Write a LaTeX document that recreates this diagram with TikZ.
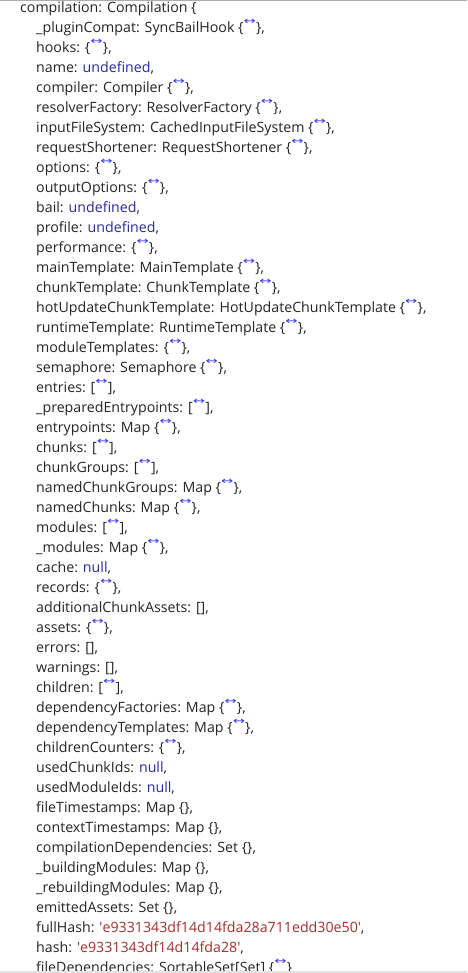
\documentclass[tikz,border=0pt]{standalone}
\usepackage{fontspec}
\setmainfont{Open Sans}
\newfontfamily\iconfont{DejaVu Sans}
\usepackage{graphicx}
\usepackage{tikz}
\usetikzlibrary{positioning}
\definecolor{inktext}{HTML}{242424}
\definecolor{undefblue}{HTML}{2B2B94}
\definecolor{strred}{HTML}{A3302C}
\definecolor{foldblue}{HTML}{3A3AF0}
\newcommand{\fold}{\kern0.1pt\raisebox{8.6pt}{\textcolor{foldblue}{\scalebox{2.1}[1.45]{\iconfont\fontsize{7}{7}\selectfont ↔}}}\kern0.1pt}
\newcommand{\undef}[1]{\textcolor{undefblue}{#1}}
\newcommand{\str}[1]{\textcolor{strred}{\textquotesingle#1\textquotesingle}}

\begin{document}
\begin{tikzpicture}[x=1pt, y=-1pt,
    prop/.style={anchor=base west, inner sep=0pt, text=inktext, font=\fontsize{14.2}{20}\selectfont},
    topline/.style={draw=black!33, line width=1.2pt},
    bottomband/.style={fill=black!11}]
    \useasboundingbox (0,0) rectangle (467,973);
    % root line and its properties, 20px apart
    \node[prop] (root) at (20,12.8) {compilation: Compilation \{};
    \node[prop] (pluginCompat) at (36,32.8) {\_pluginCompat: SyncBailHook \{\fold\},};
    \node[prop] (hooks) at (36,52.8) {hooks: \{\fold\},};
    \node[prop] (name) at (36,72.8) {name: \undef{undefined},};
    \node[prop] (compiler) at (36,92.8) {compiler: Compiler \{\fold\},};
    \node[prop] (resolverFactory) at (36,112.8) {resolverFactory: ResolverFactory \{\fold\},};
    \node[prop] (inputFileSystem) at (36,132.8) {inputFileSystem: CachedInputFileSystem \{\fold\},};
    \node[prop] (requestShortener) at (36,152.8) {requestShortener: RequestShortener \{\fold\},};
    \node[prop] (options) at (36,172.8) {options: \{\fold\},};
    \node[prop] (outputOptions) at (36,192.8) {outputOptions: \{\fold\},};
    \node[prop] (bail) at (36,212.8) {bail: \undef{undefined},};
    \node[prop] (profile) at (36,232.8) {profile: \undef{undefined},};
    \node[prop] (performance) at (36,252.8) {performance: \{\fold\},};
    \node[prop] (mainTemplate) at (36,272.8) {mainTemplate: MainTemplate \{\fold\},};
    \node[prop] (chunkTemplate) at (36,292.8) {chunkTemplate: ChunkTemplate \{\fold\},};
    \node[prop] (hotUpdate) at (36,312.8) {hotUpdateChunkTemplate: HotUpdateChunkTemplate \{\fold\},};
    \node[prop] (runtimeTemplate) at (36,332.8) {runtimeTemplate: RuntimeTemplate \{\fold\},};
    \node[prop] (moduleTemplates) at (36,352.8) {moduleTemplates: \{\fold\},};
    \node[prop] (semaphore) at (36,372.8) {semaphore: Semaphore \{\fold\},};
    \node[prop] (entries) at (36,392.8) {entries: [\fold],};
    \node[prop] (preparedEntry) at (36,412.8) {\_preparedEntrypoints: [\fold],};
    \node[prop] (entrypoints) at (36,432.8) {entrypoints: Map \{\fold\},};
    \node[prop] (chunks) at (36,452.8) {chunks: [\fold],};
    \node[prop] (chunkGroups) at (36,472.8) {chunkGroups: [\fold],};
    \node[prop] (namedChunkGroups) at (36,492.8) {namedChunkGroups: Map \{\fold\},};
    \node[prop] (namedChunks) at (36,512.8) {namedChunks: Map \{\fold\},};
    \node[prop] (modules) at (36,532.8) {modules: [\fold],};
    \node[prop] (modulesMap) at (36,552.8) {\_modules: Map \{\fold\},};
    \node[prop] (cache) at (36,572.8) {cache: \undef{null},};
    \node[prop] (records) at (36,592.8) {records: \{\fold\},};
    \node[prop] (additional) at (36,612.8) {additionalChunkAssets: [],};
    \node[prop] (assets) at (36,632.8) {assets: \{\fold\},};
    \node[prop] (errors) at (36,652.8) {errors: [],};
    \node[prop] (warnings) at (36,672.8) {warnings: [],};
    \node[prop] (children) at (36,692.8) {children: [\fold],};
    \node[prop] (depFactories) at (36,712.8) {dependencyFactories: Map \{\fold\},};
    \node[prop] (depTemplates) at (36,732.8) {dependencyTemplates: Map \{\fold\},};
    \node[prop] (childrenCounters) at (36,752.8) {childrenCounters: \{\fold\},};
    \node[prop] (usedChunkIds) at (36,772.8) {usedChunkIds: \undef{null},};
    \node[prop] (usedModuleIds) at (36,792.8) {usedModuleIds: \undef{null},};
    \node[prop] (fileTimestamps) at (36,812.8) {fileTimestamps: Map \{\},};
    \node[prop] (contextTimestamps) at (36,832.8) {contextTimestamps: Map \{\},};
    \node[prop] (compilationDeps) at (36,852.8) {compilationDependencies: Set \{\},};
    \node[prop] (building) at (36,872.8) {\_buildingModules: Map \{\},};
    \node[prop] (rebuilding) at (36,892.8) {\_rebuildingModules: Map \{\},};
    \node[prop] (emittedAssets) at (36,912.8) {emittedAssets: Set \{\},};
    \node[prop] (fullHash) at (36,932.8) {fullHash: \str{e9331343df14d14fda28a711edd30e50},};
    \node[prop] (hash) at (36,952.8) {hash: \str{e9331343df14d14fda28},};
    \node[prop] (fileDeps) at (36,972.8) {fileDependencies: SortableSet[Set] \{\fold\}};
    % window edges
    \draw[topline] (0,0.6) -- (467,0.6);
    \fill[bottomband] (0,970.5) rectangle (467,973);
\end{tikzpicture}
\end{document}
